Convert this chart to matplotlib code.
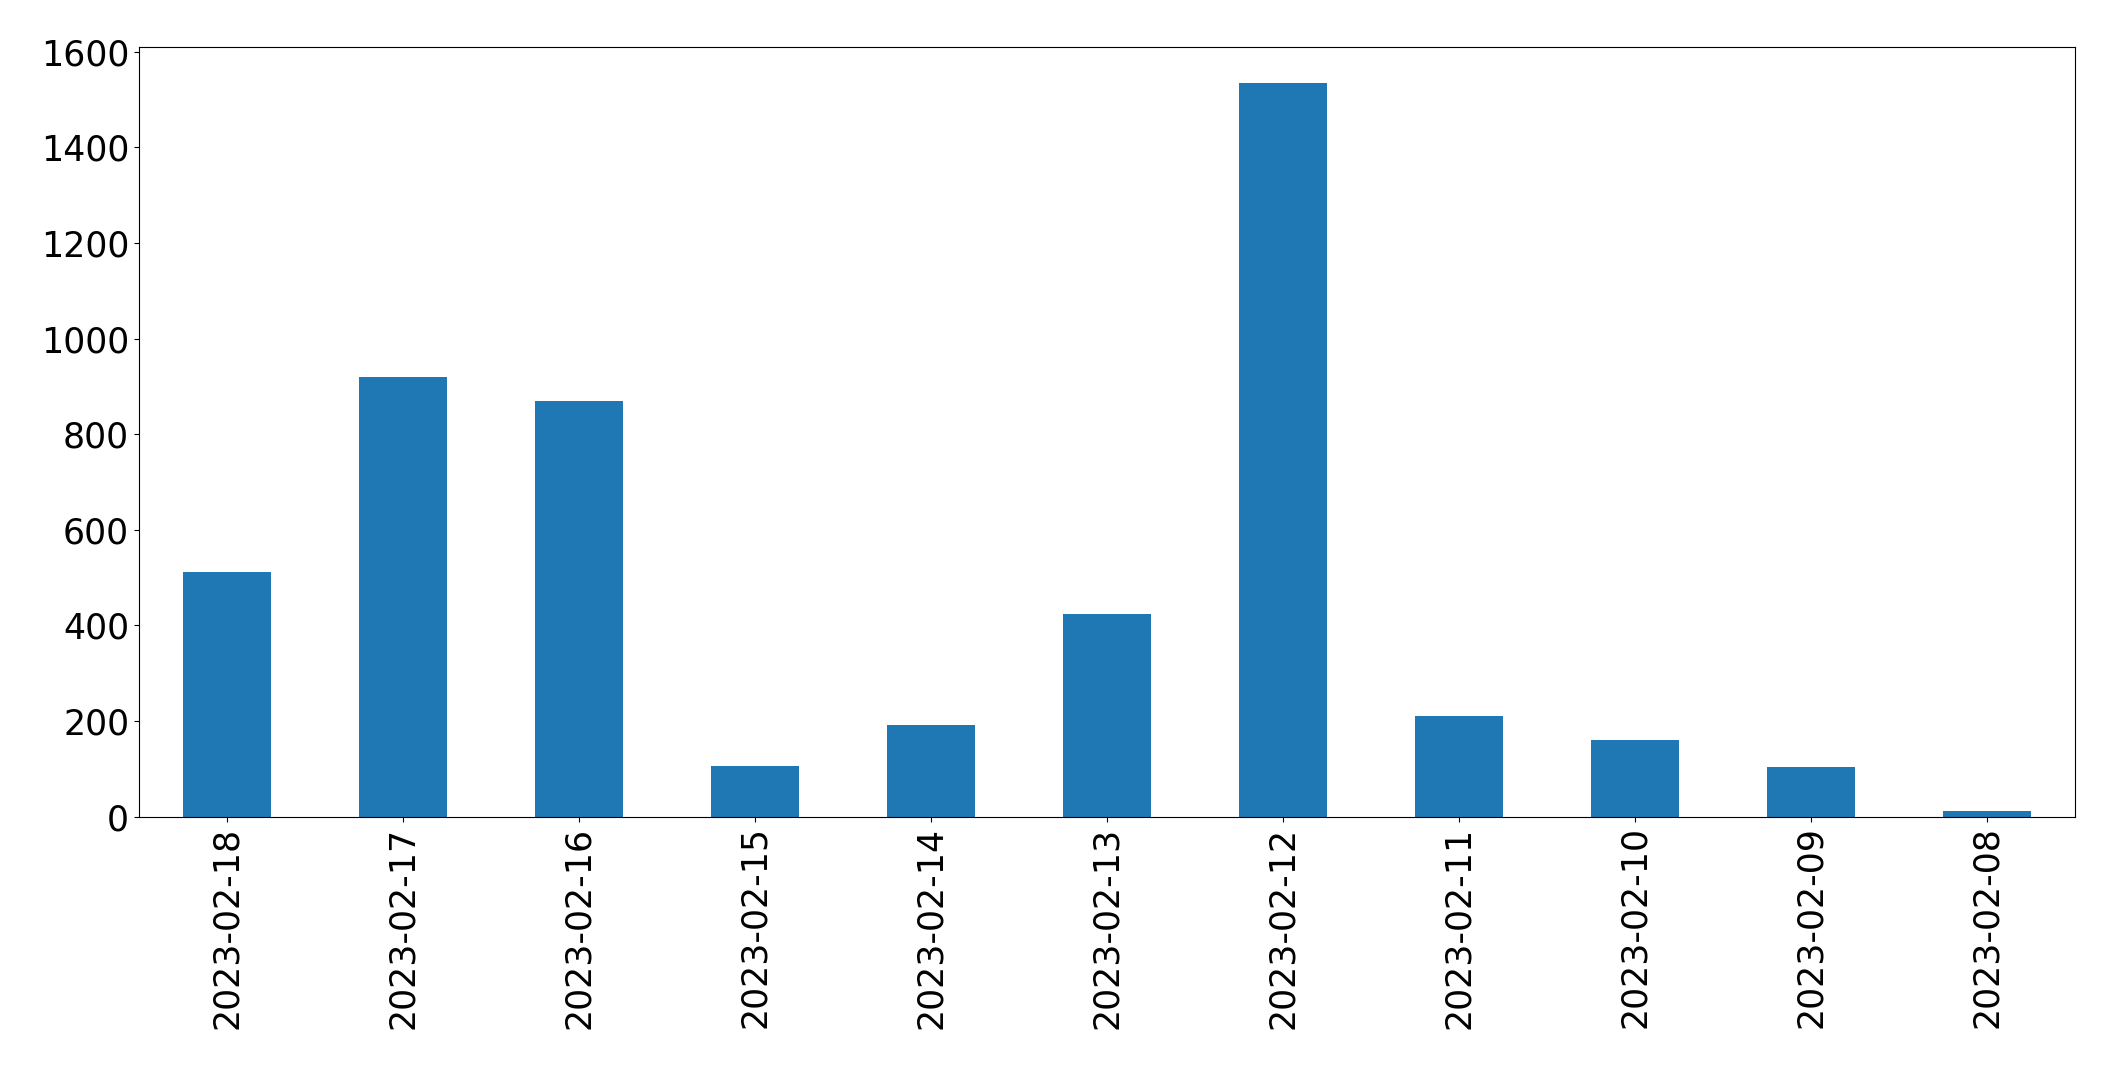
import numpy as np
import pandas as pd
import matplotlib
matplotlib.use("Agg")
import matplotlib.pyplot as plt

# Daily counts, newest first (as in the reference)
dates = ["2023-02-18", "2023-02-17", "2023-02-16", "2023-02-15", "2023-02-14",
         "2023-02-13", "2023-02-12", "2023-02-11", "2023-02-10", "2023-02-09",
         "2023-02-08"]
counts = [511, 919, 869, 107, 192, 424, 1534, 211, 161, 104, 12]

series = pd.Series(counts, index=dates)

fig = plt.figure(figsize=(21.15, 10.69), dpi=100)
ax = fig.add_axes([0.0657, 0.236, 0.9153, 0.720])
series.plot.bar(ax=ax, color="#1f77b4", width=0.5)

ax.set_ylim(0, 1610)
ax.set_yticks(np.arange(0, 1601, 200))
ax.tick_params(axis="both", labelsize=25)

fig.savefig("out.png", dpi=100)
